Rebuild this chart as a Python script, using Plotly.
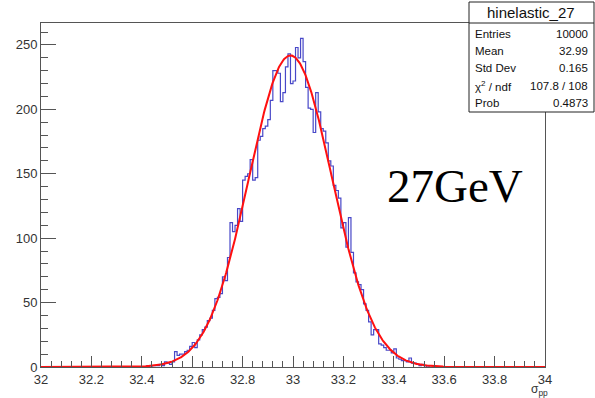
import numpy as np
import plotly.graph_objects as go

# ---- data ----
x_min, x_max, n_bins = 32.0, 34.0, 200
first_bin = 40  # index of first listed bin (32.40)
counts = [
    0, 0, 1, 0, 1, 1, 1, 2, 1, 4, 3, 2, 4,            # 32.40-32.52
    12, 9, 10, 10, 12, 13, 16, 19, 15, 21,            # 32.53-32.62
    25, 29, 31, 36, 38, 44, 53, 54, 57, 70,           # 32.63-32.72
    67, 85, 112, 105, 110, 123, 113, 145, 148, 150,   # 32.73-32.82
    161, 145, 147, 176, 179, 185, 187, 192, 207, 230, # 32.83-32.92
    230, 228, 206, 213, 233, 243, 220, 222, 248, 240, # 32.93-33.02
    255, 237, 217, 201, 200, 182, 213, 198, 185, 183, # 33.03-33.12
    174, 160, 156, 141, 137, 131, 108, 112, 93, 116,  # 33.13-33.22
    89, 73, 66, 64, 60, 49, 44, 35, 25, 29,           # 33.23-33.32
    29, 18, 17, 15, 13, 13, 11, 14, 7, 6,             # 33.33-33.42
    5, 5, 4, 7, 3, 3, 2, 1, 2, 1, 0, 1, 1,            # 33.43-33.55
]
fit_constant, fit_mean, fit_sigma = 241.8, 32.99, 0.165
stats_title = "hinelastic_27"
stats_labels = ["Entries", "Mean", "Std Dev", "χ<sup>2</sup> / ndf", "Prob"]
stats_values = ["10000", "32.99", "0.165", "107.8 / 108", "0.4873"]
x_ticks = [32.0, 32.2, 32.4, 32.6, 32.8, 33.0, 33.2, 33.4, 33.6, 33.8, 34.0]
x_tick_text = ["32", "32.2", "32.4", "32.6", "32.8", "33", "33.2", "33.4", "33.6", "33.8", "34"]
y_ticks = [0, 50, 100, 150, 200, 250]
y_tick_text = ["0", "50", "100", "150", "200", "250"]

# ---- build histogram ----
all_counts = np.zeros(n_bins)
all_counts[first_bin:first_bin + len(counts)] = counts
edges = np.linspace(x_min, x_max, n_bins + 1)
sx = []
sy = []
for i in range(n_bins):
    sx += [edges[i], edges[i + 1]]
    sy += [all_counts[i], all_counts[i]]

fx = np.linspace(x_min, x_max, 801)
fy = fit_constant * np.exp(-0.5 * ((fx - fit_mean) / fit_sigma) ** 2)

W, H = 595, 398
L, R, T, B = 41, 50, 23, 31
pw, ph = W - L - R, H - T - B

def px(x):
    return (x - L) / pw

def py(y):
    return (H - B - y) / ph

fig = go.Figure()
fig.add_trace(go.Scatter(x=sx, y=sy, mode="lines",
                         line=dict(color="#4848c8", width=1.2),
                         hoverinfo="skip", showlegend=False))
fig.add_trace(go.Scatter(x=fx, y=fy, mode="lines",
                         line=dict(color="#ff1010", width=2),
                         hoverinfo="skip", showlegend=False))

axis_col = "#555555"
font_col = "#333333"
fig.update_xaxes(range=[x_min, x_max], tickvals=x_ticks, ticktext=x_tick_text,
                 ticks="inside", ticklen=11, tickcolor=axis_col, tickwidth=1,
                 showline=True, linecolor=axis_col, linewidth=1, mirror=True,
                 showgrid=False, zeroline=False,
                 tickfont=dict(family="Liberation Sans, Arial", size=13, color=font_col),
                 minor=dict(dtick=0.04, tick0=32, ticks="inside", ticklen=6,
                            tickcolor=axis_col, showgrid=False))
fig.update_yaxes(range=[0, 267], tickvals=y_ticks, ticktext=y_tick_text,
                 ticks="inside", ticklen=15, tickcolor=axis_col, tickwidth=1,
                 showline=True, linecolor=axis_col, linewidth=1, mirror=True,
                 showgrid=False, zeroline=False,
                 tickfont=dict(family="Liberation Sans, Arial", size=13, color=font_col),
                 minor=dict(dtick=10, tick0=0, ticks="inside", ticklen=7,
                            tickcolor=axis_col, showgrid=False))

# stats box
bx0, bx1, by0, by1, bdiv = 469, 594, 2, 112, 23
fig.add_shape(type="rect", xref="paper", yref="paper",
              x0=px(bx0), x1=px(bx1), y0=py(by1), y1=py(by0),
              line=dict(color="#222222", width=1), fillcolor="white", layer="above")
fig.add_shape(type="line", xref="paper", yref="paper",
              x0=px(bx0), x1=px(bx1), y0=py(bdiv), y1=py(bdiv),
              line=dict(color="#222222", width=1), layer="above")
fig.add_annotation(xref="paper", yref="paper", x=px(531), y=py(12.5),
                   text=stats_title, showarrow=False, xanchor="center", yanchor="middle",
                   font=dict(family="Liberation Sans, Arial", size=15, color="#111111"))
for i, (lab, val) in enumerate(zip(stats_labels, stats_values)):
    yy = py(34 + 17.2 * i)
    fig.add_annotation(xref="paper", yref="paper", x=px(bx0 + 4), y=yy, text=lab,
                       showarrow=False, xanchor="left", yanchor="middle",
                       font=dict(family="Liberation Sans, Arial", size=11.5, color="#111111"))
    fig.add_annotation(xref="paper", yref="paper", x=px(590), y=yy, text=val,
                       showarrow=False, xanchor="right", yanchor="middle",
                       font=dict(family="Liberation Sans, Arial", size=11.5, color="#111111"))

# energy label
fig.add_annotation(xref="paper", yref="paper", x=px(455), y=py(186), text="27GeV",
                   showarrow=False, xanchor="center", yanchor="middle",
                   font=dict(family="Liberation Serif, Times New Roman", size=47, color="black"))
# x axis title
fig.add_annotation(xref="paper", yref="paper", x=px(550), y=py(390),
                   text="σ<sub>pp</sub>", showarrow=False, xanchor="right", yanchor="middle",
                   font=dict(family="Liberation Sans, Arial", size=12, color=font_col))

fig.update_layout(width=W, height=H, margin=dict(l=L, r=R, t=T, b=B),
                  paper_bgcolor="white", plot_bgcolor="white", showlegend=False)
fig.write_html("out.html")
